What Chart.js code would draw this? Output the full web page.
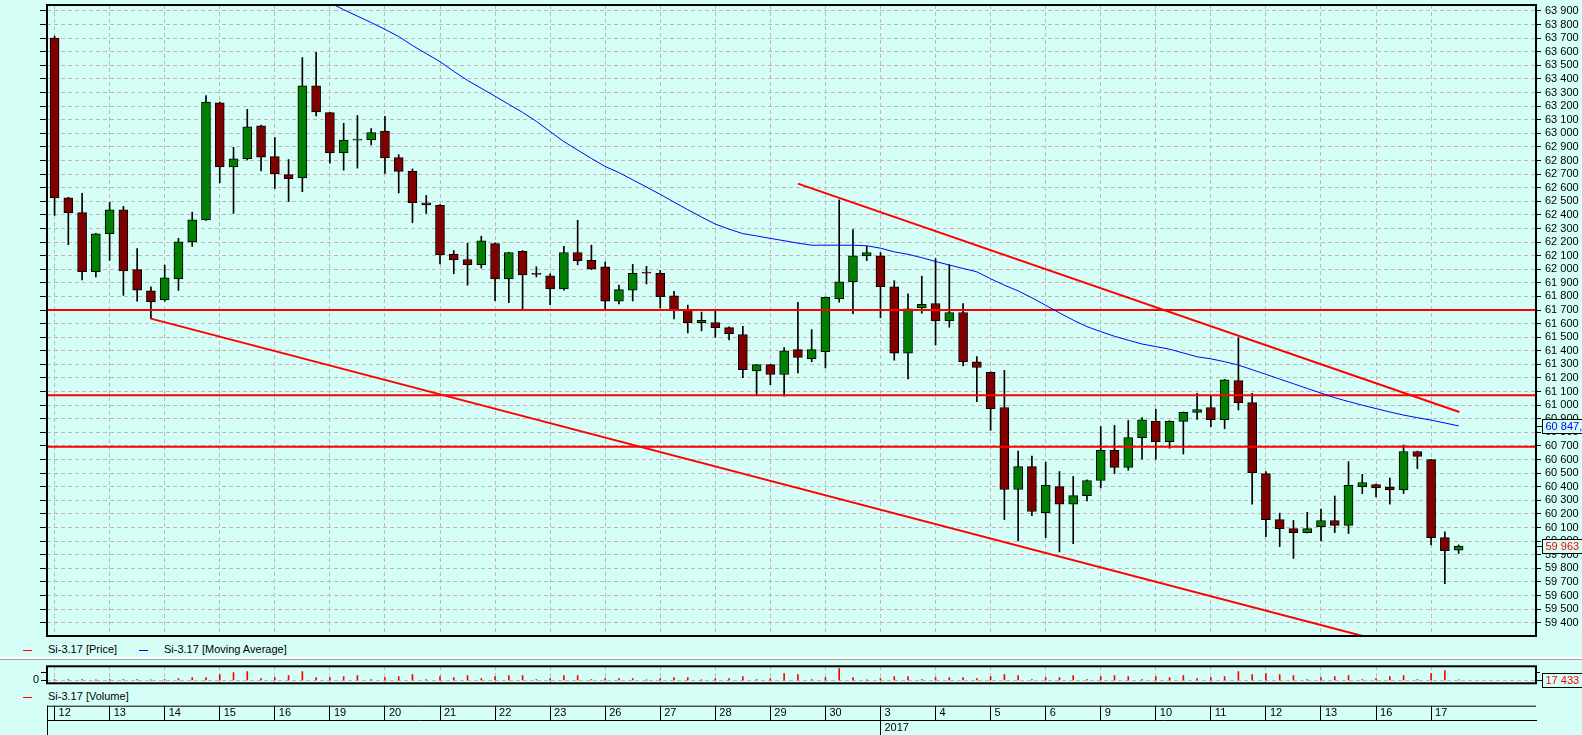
<!DOCTYPE html>
<html>
<head>
<meta charset="utf-8">
<script src="https://cdn.jsdelivr.net/npm/chart.js@4.4.1/dist/chart.umd.min.js"></script>
<style>
  html, body { margin: 0; padding: 0; width: 1582px; height: 735px; overflow: hidden; background: #d5fff6; }
  canvas { position: absolute; left: 0; }
  .lg { position: absolute; font: 11px "Liberation Sans", Arial, sans-serif; line-height: 13px; color: #000; white-space: nowrap; }
  .mk { position: absolute; width: 9px; height: 1px; }
  .sep { position: absolute; left: 0; width: 1582px; }
</style>
</head>
<body>
<canvas id="price" width="1582" height="640" style="top:0"></canvas>
<div class="mk" style="top:650px;left:23px;background:#ff0000"></div>
<div class="lg" style="top:643px;left:48px">Si-3.17 [Price]</div>
<div class="mk" style="top:650px;left:139px;background:#0000ff"></div>
<div class="lg" style="top:643px;left:164px">Si-3.17 [Moving Average]</div>
<div class="sep" style="top:657px;height:2px;background:#ffffff"></div>
<div class="sep" style="top:659px;height:1px;background:#a0a0a0"></div>
<canvas id="vol" width="1582" height="30" style="top:660px"></canvas>
<div class="mk" style="top:697px;left:23px;background:#ff0000"></div>
<div class="lg" style="top:690px;left:48px">Si-3.17 [Volume]</div>
<canvas id="dates" width="1582" height="31" style="top:704px"></canvas>
<script>
// day labels of the time axis, 4 hourly candles per day
const dayLabels = ['12','13','14','15','16','19','20','21','22','23','26','27','28','29','30',
  '3','4','5','6','9','10','11','12','13','16','17'];
const candlesPerDay = 4;
const yearStartDay = 15;
const yearLabel = '2017';

const opens = [63700,62525,62417,61982,62261,62438,61997,61841,61775,61928,
  62201,62363,63224,62753,62813,63056,62828,62696,62672,63350,
  63152,62855,62950,62951,63017,62822,62720,62489,62471,62111,
  62072,62033,62189,61928,62132,61966,61952,61856,62123,62066,
  62018,61766,61847,61975,61970,61805,61697,61607,61607,61571,
  61520,61253,61298,61226,61409,61343,61394,61781,61907,62099,
  62099,61871,61382,61715,61748,61619,61682,61319,61241,60983,
  60380,60548,60209,60401,60272,60335,60446,60668,60542,60761,
  60881,60731,60881,60947,60983,60893,61181,61019,60497,60158,
  60092,60062,60107,60152,60116,60401,60416,60398,60377,60659,
  60599,60026,59933];
const highs = [63715,62530,62558,62265,62492,62462,62153,61871,62030,62228,
  62420,63278,63230,62897,63176,63060,62969,62807,63557,63596,
  63155,63074,63131,63035,63125,62843,62738,62543,62475,62138,
  62192,62243,62195,62125,62138,62018,61967,62168,62360,62177,
  62054,61883,62036,62021,61991,61838,61736,61685,61691,61577,
  61580,61298,61300,61424,61757,61556,61795,62510,62291,62168,
  62123,61916,61820,61949,62078,62033,61748,61358,61245,61256,
  60662,60626,60581,60512,60476,60450,60842,60851,60887,60908,
  60971,60887,60950,61088,61073,61190,61496,61088,60512,60206,
  60152,60212,60236,60332,60584,60491,60420,60464,60707,60662,
  60602,60068,59972];
const lows = [62396,62180,61922,61943,62066,61808,61766,61637,61765,61844,
  62168,62360,62636,62411,62804,62723,62594,62498,62570,63128,
  62780,62729,62744,62915,62705,62561,62342,62411,62039,61967,
  61883,62009,61769,61754,61700,61943,61739,61847,62033,61997,
  61706,61745,61766,61892,61715,61634,61532,61547,61499,61481,
  61202,61076,61151,61067,61238,61319,61274,61757,61673,62063,
  61643,61331,61193,61676,61442,61574,61289,61025,60815,60158,
  60002,60188,60026,59921,59981,60296,60392,60497,60521,60602,
  60602,60683,60641,60896,60842,60827,60965,60272,60032,59960,
  59873,60060,60002,60062,60056,60350,60326,60272,60350,60533,
  59972,59687,59909];
const closes = [62525,62417,61982,62261,62438,61988,61847,61760,61937,62201,
  62363,63230,62753,62813,63047,62825,62702,62666,63350,63158,
  62855,62951,62955,63005,62819,62720,62489,62474,62105,62069,
  62033,62210,61928,62123,61958,61962,61856,62123,62063,62003,
  61766,61850,61970,61971,61799,61697,61607,61625,61571,61526,
  61262,61298,61226,61400,61352,61409,61793,61907,62099,62123,
  61871,61382,61709,61742,61619,61682,61319,61277,60974,60380,
  60548,60218,60410,60272,60335,60446,60668,60542,60761,60893,
  60731,60881,60947,60968,60893,61187,61019,60503,60158,60092,
  60062,60092,60152,60116,60410,60431,60392,60377,60659,60623,
  60026,59930,59963];
const volumes = [41700,43900,40800,14200,42500,41200,39600,13100,43100,104800,
  166200,171500,354900,478300,543600,103100,167400,290800,541200,166900,
  168300,229600,292100,40600,167800,228700,354100,42200,229900,166100,
  291400,104300,230600,292700,290300,41900,104600,291200,292600,41300,
  104900,103800,105200,13800,104100,167900,166500,12900,104400,105600,
  229300,41600,104700,416800,354700,42300,166800,728600,167200,14500,
  104500,229100,230400,41800,166400,167700,166200,104900,229800,354400,
  291900,41400,166700,167300,292400,42100,229200,291600,228900,41200,
  229600,167100,291300,104100,166600,229500,541900,353800,417200,354300,
  291700,41900,166900,229400,292200,42400,104300,229700,291800,41100,
  417400,604700,17433];

// moving average, from candle 18 on (earlier values are above the visible range)
const maStart = 18;
const maValues = [64060,64010,63960,63910,63862,63815,63765,63712,63646,63586,
  63527,63456,63389,63331,63273,63213,63154,63088,63013,62939,
  62877,62815,62756,62711,62658,62605,62551,62494,62438,62384,
  62332,62295,62262,62245,62227,62210,62192,62177,62177,62177,
  62177,62173,62155,62128,62110,62085,62057,62031,62006,61981,
  61930,61883,61841,61790,61735,61679,61626,61578,61541,61507,
  61478,61450,61431,61412,61384,61356,61341,61320,61295,61261,
  61227,61192,61158,61123,61089,61055,61027,61000,60975,60950,
  60927,60908,60890,60869,60847.8];

// drawn levels and trend lines: [candle index, price]
const levels = [61700, 61073, 60695];
const supportLine = [[7, 61637], [95.6, 59287]];
const resistanceLine = [[54, 62630], [102.05, 60950]];

const priceTicks = [];
for (let v = 59400; v <= 63900; v += 100) priceTicks.push(v);
const volumeTicks = [0, 500000];

const priceMin = 59302, priceMax = 63944;
const volMin = -187500, volMax = 875000;
const xMin = -0.55, xMax = 107.62;

const bg = '#d5fff6';
const gridColor = '#c4b6b6';
const fontFamily = '"Liberation Sans", Arial, sans-serif';
Chart.defaults.font.family = fontFamily;
Chart.defaults.font.size = 11;
Chart.defaults.color = '#000';

const idx = opens.map((_, i) => i);
const dayTicks = () => dayLabels.map((_, k) => ({ value: k * candlesPerDay }));
const fmt = v => {
  const [a, b] = String(v).split('.');
  return a.replace(/\B(?=(\d{3})+(?!\d))/g, ' ') + (b ? ',' + b : '');
};

const frame = {
  id: 'frame',
  afterDraw(chart) {
    const { ctx, chartArea: a } = chart;
    ctx.save();
    ctx.strokeStyle = '#000';
    ctx.lineWidth = 2;
    ctx.strokeRect(a.left, a.top, a.right - a.left, a.bottom - a.top);
    ctx.restore();
  }
};

function valueBox(ctx, x0, py, text, color) {
  ctx.save();
  ctx.font = '11px ' + fontFamily;
  const w = Math.ceil(ctx.measureText(text).width) + 6;
  const y = Math.round(py);
  ctx.strokeStyle = '#000';
  ctx.lineWidth = 1;
  ctx.beginPath();
  ctx.moveTo(x0, y + 0.5);
  ctx.lineTo(x0 + 6, y + 0.5);
  ctx.stroke();
  ctx.fillStyle = bg;
  ctx.fillRect(x0 + 6, y - 7, w, 15);
  ctx.strokeRect(x0 + 6.5, y - 6.5, w, 14);
  ctx.fillStyle = color;
  ctx.textBaseline = 'middle';
  ctx.fillText(text, x0 + 9.5, y + 1);
  ctx.restore();
}

const priceBoxes = {
  id: 'priceBoxes',
  afterDraw(chart) {
    const s = chart.scales.y;
    const x0 = chart.chartArea.right;
    const lastMa = maValues[maValues.length - 1];
    const lastClose = closes[closes.length - 1];
    valueBox(chart.ctx, x0, s.getPixelForValue(lastMa), fmt(lastMa), '#0000ff');
    valueBox(chart.ctx, x0, s.getPixelForValue(lastClose), fmt(lastClose), '#ff0000');
  }
};

const volumeBox = {
  id: 'volumeBox',
  afterDraw(chart) {
    const last = volumes[volumes.length - 1];
    valueBox(chart.ctx, chart.chartArea.right, chart.scales.y.getPixelForValue(last), fmt(last), '#ff0000');
  }
};

const lineDs = (pts, color, width, order) => ({
  type: 'line',
  data: pts.map(p => ({ x: p[0], y: p[1] })),
  borderColor: color,
  borderWidth: width,
  pointRadius: 0,
  tension: 0,
  order: order,
  yAxisID: 'y'
});

new Chart(document.getElementById('price'), {
  type: 'bar',
  data: {
    datasets: [
      lineDs(maValues.map((v, k) => [maStart + k, v]), '#0000ff', 1, -2),
      ...levels.map(l => lineDs([[xMin, l], [xMax, l]], '#ff0000', 2, -1)),
      lineDs(supportLine, '#ff0000', 2, -1),
      lineDs(resistanceLine, '#ff0000', 2, -1),
      {
        data: idx.map(i => ({ x: i, y: [opens[i], closes[i]] })),
        backgroundColor: idx.map(i => closes[i] >= opens[i] ? '#008000' : '#800000'),
        borderColor: '#000',
        borderWidth: 1,
        borderSkipped: false,
        barThickness: 9,
        minBarLength: 1,
        grouped: false,
        order: 1,
        yAxisID: 'y'
      },
      {
        data: idx.map(i => ({ x: i, y: [lows[i], highs[i]] })),
        backgroundColor: '#000',
        barThickness: 1,
        grouped: false,
        order: 2,
        yAxisID: 'y'
      }
    ]
  },
  options: {
    animation: false,
    responsive: false,
    events: [],
    layout: { padding: { top: 5 }, autoPadding: false },
    plugins: { legend: { display: false }, tooltip: { enabled: false } },
    scales: {
      x: {
        type: 'linear', min: xMin, max: xMax, offset: false,
        afterBuildTicks: s => { s.ticks = dayTicks(); },
        ticks: { display: false, autoSkip: false },
        grid: { color: gridColor, drawTicks: false, offset: false },
        border: { display: false, dash: [4, 3] },
        afterFit: s => { s.height = 4; s.paddingLeft = 0; s.paddingRight = 0; }
      },
      y: {
        type: 'linear', position: 'right', min: priceMin, max: priceMax,
        afterBuildTicks: s => { s.ticks = priceTicks.map(v => ({ value: v })); },
        ticks: { callback: v => fmt(v), padding: 4, autoSkip: false },
        grid: { color: gridColor, tickColor: '#000', tickLength: 5, tickBorderDash: [] },
        border: { display: false, dash: [4, 3] },
        afterFit: s => { s.width = 46; s.paddingTop = 0; s.paddingBottom = 0; }
      },
      yl: {
        type: 'linear', position: 'left', min: priceMin, max: priceMax,
        afterBuildTicks: s => { s.ticks = priceTicks.map(v => ({ value: v })); },
        ticks: { display: false, autoSkip: false },
        grid: { drawOnChartArea: false, tickColor: '#000', tickLength: 7 },
        border: { display: false },
        afterFit: s => { s.width = 47; s.paddingTop = 0; s.paddingBottom = 0; }
      }
    }
  },
  plugins: [frame, priceBoxes]
});

new Chart(document.getElementById('vol'), {
  type: 'bar',
  data: {
    datasets: [{
      data: idx.map(i => ({ x: i, y: volumes[i] })),
      backgroundColor: '#ff0000',
      barThickness: 1,
      yAxisID: 'y'
    }]
  },
  options: {
    animation: false,
    responsive: false,
    events: [],
    layout: { padding: { top: 6.3 }, autoPadding: false },
    plugins: { legend: { display: false }, tooltip: { enabled: false } },
    scales: {
      x: {
        type: 'linear', min: xMin, max: xMax, offset: false,
        afterBuildTicks: s => { s.ticks = dayTicks(); },
        ticks: { display: false, autoSkip: false },
        grid: { color: gridColor, drawTicks: false, offset: false },
        border: { display: false, dash: [4, 3] },
        afterFit: s => { s.height = 6.7; s.paddingLeft = 0; s.paddingRight = 0; }
      },
      y: {
        type: 'linear', position: 'left', min: volMin, max: volMax,
        afterBuildTicks: s => { s.ticks = volumeTicks.map(v => ({ value: v })); },
        ticks: { callback: v => (v === 0 ? '0' : ''), padding: 2, autoSkip: false },
        grid: {
          color: c => (c.tick && c.tick.value === 0 ? gridColor : 'rgba(0,0,0,0)'),
          tickColor: '#000', tickLength: 6, tickBorderDash: []
        },
        border: { display: false, dash: [4, 3] },
        afterFit: s => { s.width = 47; s.paddingTop = 0; s.paddingBottom = 0; }
      },
      yr: {
        type: 'linear', position: 'right', min: volMin, max: volMax,
        afterBuildTicks: s => { s.ticks = volumeTicks.map(v => ({ value: v })); },
        ticks: { display: false, autoSkip: false },
        grid: { drawOnChartArea: false, tickColor: '#000', tickLength: 4 },
        border: { display: false },
        afterFit: s => { s.width = 46; s.paddingTop = 0; s.paddingBottom = 0; }
      }
    }
  },
  plugins: [frame, volumeBox]
});

const dateFrame = {
  id: 'dateFrame',
  afterDraw(chart) {
    const { ctx, chartArea: a } = chart;
    const s = chart.scales.x;
    ctx.save();
    ctx.strokeStyle = '#000';
    ctx.lineWidth = 1;
    ctx.beginPath();
    ctx.moveTo(a.left, s.top + 0.5);
    ctx.lineTo(a.right, s.top + 0.5);
    ctx.moveTo(a.left + 0.5, s.top);
    ctx.lineTo(a.left + 0.5, a.bottom);
    ctx.stroke();
    ctx.fillStyle = '#000';
    ctx.font = '11px ' + fontFamily;
    ctx.textBaseline = 'middle';
    ctx.fillText(yearLabel, s.getPixelForValue(yearStartDay * candlesPerDay) + 4, (a.top + a.bottom) / 2 + 0.5);
    ctx.restore();
  }
};

new Chart(document.getElementById('dates'), {
  type: 'bar',
  data: { datasets: [] },
  options: {
    animation: false,
    responsive: false,
    events: [],
    layout: { padding: { top: 1.7, left: 47, right: 46 }, autoPadding: false },
    plugins: { legend: { display: false }, tooltip: { enabled: false } },
    scales: {
      x: {
        type: 'linear', position: 'top', min: xMin, max: xMax, offset: false,
        afterBuildTicks: s => { s.ticks = dayTicks(); },
        ticks: { autoSkip: false, maxRotation: 0, align: 'start', labelOffset: 4, padding: -13.8,
          callback: (v, i) => dayLabels[i] },
        grid: {
          tickLength: 14.3, tickColor: '#000', offset: false,
          color: c => (c.tick && c.tick.value === yearStartDay * candlesPerDay ? '#000' : 'rgba(0,0,0,0)')
        },
        border: { color: '#000', width: 1 },
        afterFit: s => { s.height = 14.3; s.paddingLeft = 0; s.paddingRight = 0; }
      },
      y: { display: false }
    }
  },
  plugins: [dateFrame]
});
</script>
</body>
</html>
